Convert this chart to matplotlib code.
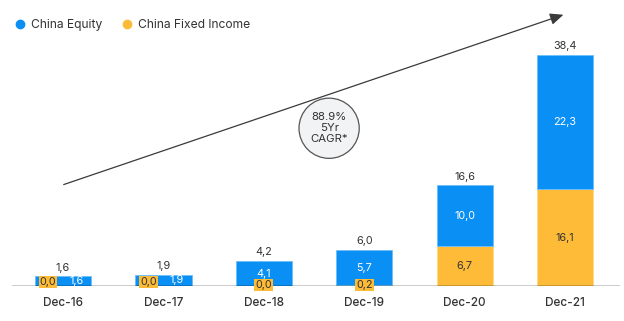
import matplotlib.pyplot as plt
from matplotlib.lines import Line2D
from matplotlib.patches import Ellipse
import numpy as np

plt.rcParams['font.family'] = ['Inter', 'DejaVu Sans']

categories = ["Dec-16", "Dec-17", "Dec-18", "Dec-19", "Dec-20", "Dec-21"]
fixed_income = [0.0, 0.0, 0.0, 0.2, 6.7, 16.1]
equity = [1.6, 1.9, 4.1, 5.7, 10.0, 22.3]
totals = [1.6, 1.9, 4.2, 6.0, 16.6, 38.4]
cagr_text = "88.9%\n5Yr\nCAGR*"

blue = "#0a8ff5"
yellow = "#fdbb38"
dark = "#333333"


def fmt(v):
    return f"{v:.1f}".replace(".", ",")


fig = plt.figure(figsize=(6.24, 3.21), dpi=100)
ax = fig.add_axes([0.019, 0.109, 0.975, 0.891])

x = np.arange(len(categories))
w = 0.56
ax.bar(x, fixed_income, w, color=yellow, edgecolor="#ffd98a", linewidth=0.6, zorder=2)
ax.bar(x, equity, w, bottom=fixed_income, color=blue, edgecolor="#6cc0fa", linewidth=0.6, zorder=2)

ax.set_xlim(-0.51, 5.55)
ax.set_ylim(0, 47.5)
ax.axhline(0, color="black", lw=1.0, zorder=3)

fs = 7.8
for i in range(len(categories)):
    fi = fixed_income[i]
    eq = equity[i]
    ax.text(x[i], totals[i] + 0.6, fmt(totals[i]), ha="center", va="bottom",
            fontsize=fs, color=dark)
    if eq < 3:
        # small bars: labels side by side
        ax.text(x[i] + 0.13, eq / 2 + 0.1, fmt(eq), ha="center", va="center",
                fontsize=fs, color="white", zorder=4)
        ax.text(x[i] - 0.15, 0.6, fmt(fi), ha="center", va="center",
                fontsize=fs, color=dark, zorder=4,
                bbox=dict(boxstyle="square,pad=0.1", fc=yellow, ec="none"))
    else:
        ax.text(x[i], fi + eq / 2, fmt(eq), ha="center", va="center",
                fontsize=fs, color="white", zorder=4)
        if fi < 3:
            ax.text(x[i], 0.1, fmt(fi), ha="center", va="center",
                    fontsize=fs, color=dark, zorder=4,
                    bbox=dict(boxstyle="square,pad=0.1", fc=yellow, ec="none"))
        else:
            ax.text(x[i], fi / 2, fmt(fi), ha="center", va="center",
                    fontsize=fs, color=dark, zorder=4)

ax.set_xticks(x)
ax.set_xticklabels(categories, fontsize=8.5, color=dark, fontweight="medium")
ax.tick_params(axis="x", length=0, pad=8)
ax.set_yticks([])
for s in ax.spines.values():
    s.set_visible(False)

# growth arrow
ax.annotate("", xy=(5.01, 45.2), xytext=(-0.02, 16.7),
            arrowprops=dict(arrowstyle="-|>,head_length=0.8,head_width=0.35",
                            color="#3a3a3a", lw=0.9), zorder=1)
ax.add_patch(Ellipse((2.65, 26.2), 0.6, 10.0, fc="#f2f3f5", ec="#555555",
                     lw=0.9, zorder=5))
ax.text(2.65, 26.2, cagr_text, ha="center", va="center", fontsize=8.2,
        color=dark, linespacing=1.1, zorder=6)

handles = [Line2D([], [], ls="", marker="o", ms=6, color=blue),
           Line2D([], [], ls="", marker="o", ms=6, color=yellow)]
fig.legend(handles, ["China Equity", "China Fixed Income"], loc="center left",
           bbox_to_anchor=(0.003, 0.922), ncol=2, frameon=False, fontsize=8.7,
           handletextpad=0.3, columnspacing=1.5, handlelength=1.2,
           labelcolor=dark)

fig.savefig("out.png", dpi=100)
